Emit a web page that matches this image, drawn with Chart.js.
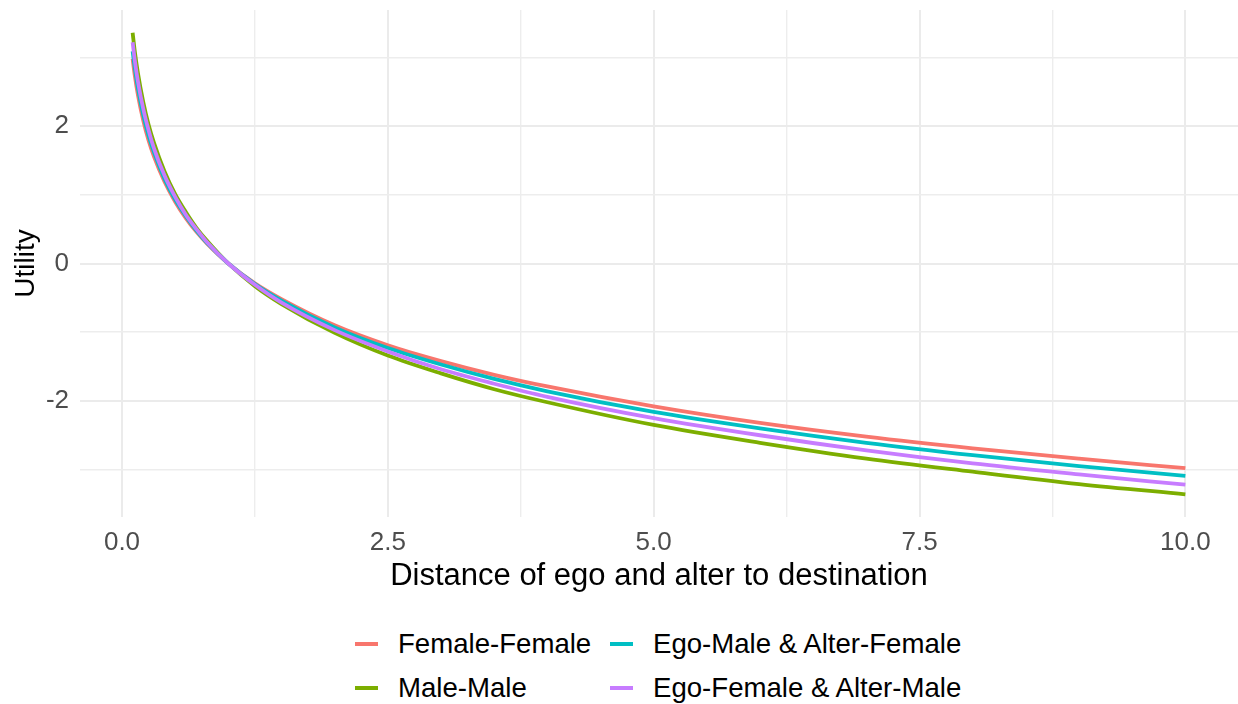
<!DOCTYPE html>
<html>
<head>
<meta charset="utf-8">
<script src="https://cdn.jsdelivr.net/npm/chart.js@4.4.1/dist/chart.umd.min.js"></script>
<style>
  body { margin: 0; background: #fff; font-family: "Liberation Sans", Arial, sans-serif; }
  #wrap { position: relative; width: 1238px; height: 600px; }
  #legend {
    display: grid;
    grid-template-columns: 255px auto;
    grid-template-rows: 44px 44px;
    grid-auto-flow: column;
    margin: 22px 0 0 355px;
    font-size: 27.6px;
    color: #000;
  }
  .item { display: flex; align-items: center; white-space: nowrap; }
  .swatch { width: 23px; height: 4px; margin-right: 20px; }
</style>
</head>
<body>
<div id="wrap"><canvas id="chart" width="1238" height="600"></canvas></div>
<div id="legend"></div>
<script>
// distance values
const distance = [0.1, 0.12, 0.15, 0.2, 0.25, 0.3, 0.4, 0.5, 0.6, 0.7, 0.8, 1, 1.25, 1.5, 2, 2.5, 3, 3.5, 4, 5, 6, 7, 8, 9, 10];

const femaleFemale = [2.98, 2.74, 2.45, 2.08, 1.79, 1.56, 1.19, 0.90, 0.66, 0.46, 0.29, 0, -0.29, -0.52, -0.90, -1.19, -1.42, -1.62, -1.79, -2.08, -2.32, -2.52, -2.69, -2.84, -2.98];
const maleMale     = [3.36, 3.09, 2.77, 2.35, 2.02, 1.76, 1.34, 1.01, 0.75, 0.52, 0.33, 0, -0.33, -0.59, -1.01, -1.34, -1.60, -1.83, -2.02, -2.35, -2.61, -2.84, -3.03, -3.21, -3.36];
const egoMale      = [3.09, 2.85, 2.55, 2.16, 1.86, 1.62, 1.23, 0.93, 0.69, 0.48, 0.30, 0, -0.30, -0.54, -0.93, -1.23, -1.47, -1.68, -1.86, -2.16, -2.40, -2.61, -2.79, -2.95, -3.09];
const egoFemale    = [3.22, 2.96, 2.65, 2.25, 1.94, 1.68, 1.28, 0.97, 0.71, 0.50, 0.31, 0, -0.31, -0.57, -0.97, -1.28, -1.54, -1.75, -1.94, -2.25, -2.50, -2.72, -2.91, -3.07, -3.22];

const seriesNames  = ['Female-Female', 'Male-Male', 'Ego-Male & Alter-Female', 'Ego-Female & Alter-Male'];
const seriesValues = [femaleFemale, maleMale, egoMale, egoFemale];
const seriesColors = ['#F8766D', '#7CAE00', '#00BFC4', '#C77CFF'];

const xTickLabels = ['0.0', '2.5', '5.0', '7.5', '10.0'];
const yTickLabels = ['-2', '0', '2'];

const FONT = '"Liberation Sans", Arial, sans-serif';
const GRID_MAJOR = '#EBEBEB';
const GRID_MINOR = '#EDEDED';

const isMajorX = v => Math.abs(v / 2.5 - Math.round(v / 2.5)) < 1e-6;
const isMajorY = v => Math.abs(v % 2) < 1e-6;

const datasets = seriesValues.map((vals, i) => ({
  label: seriesNames[i],
  data: distance.map((d, j) => ({ x: d, y: vals[j] })),
  borderColor: seriesColors[i],
  borderWidth: 3.8,
  pointRadius: 0,
  fill: false,
  cubicInterpolationMode: 'monotone',
  order: seriesValues.length - 1 - i
}));

new Chart(document.getElementById('chart').getContext('2d'), {
  type: 'line',
  data: { datasets },
  options: {
    responsive: false,
    animation: false,
    events: [],
    layout: { padding: { top: 10, right: 0, left: 0, bottom: 0 } },
    plugins: { legend: { display: false }, tooltip: { enabled: false } },
    scales: {
      x: {
        type: 'linear',
        min: -0.395,
        max: 10.495,
        border: { display: false },
        grid: {
          drawTicks: false,
          color: c => isMajorX(c.tick.value) ? GRID_MAJOR : GRID_MINOR,
          lineWidth: c => isMajorX(c.tick.value) ? 2 : 1.4
        },
        ticks: {
          stepSize: 1.25,
          includeBounds: false,
          autoSkip: false,
          maxRotation: 0,
          padding: 10,
          color: '#4D4D4D',
          font: { family: FONT, size: 26 },
          callback: v => {
            const label = xTickLabels.find(t => Math.abs(parseFloat(t) - v) < 1e-6);
            return label !== undefined ? label : '';
          }
        },
        title: {
          display: true,
          text: 'Distance of ego and alter to destination',
          color: '#000',
          font: { family: FONT, size: 31 },
          padding: { top: 0, bottom: 5 }
        },
        afterFit: s => { s.height = 83; s.paddingLeft = 0; s.paddingRight = 0; }
      },
      y: {
        min: -3.69,
        max: 3.69,
        border: { display: false },
        grid: {
          drawTicks: false,
          color: c => isMajorY(c.tick.value) ? GRID_MAJOR : GRID_MINOR,
          lineWidth: c => isMajorY(c.tick.value) ? 2 : 1.4
        },
        ticks: {
          stepSize: 1,
          includeBounds: false,
          padding: 11,
          color: '#4D4D4D',
          font: { family: FONT, size: 26 },
          callback: v => {
            const label = yTickLabels.find(t => Number(t) === v);
            return label !== undefined ? label : '';
          }
        },
        title: {
          display: true,
          text: 'Utility',
          color: '#000',
          font: { family: FONT, size: 28 },
          padding: { top: 9, bottom: 0 }
        },
        afterFit: s => { s.width = 80; s.paddingTop = 0; s.paddingBottom = 0; }
      }
    }
  }
});

// legend below the chart, two rows filled column by column
document.getElementById('legend').innerHTML = seriesNames.map((name, i) => `
  <div class="item"><span class="swatch" style="background:${seriesColors[i]}"></span>${name}</div>
`).join('');
</script>
</body>
</html>
